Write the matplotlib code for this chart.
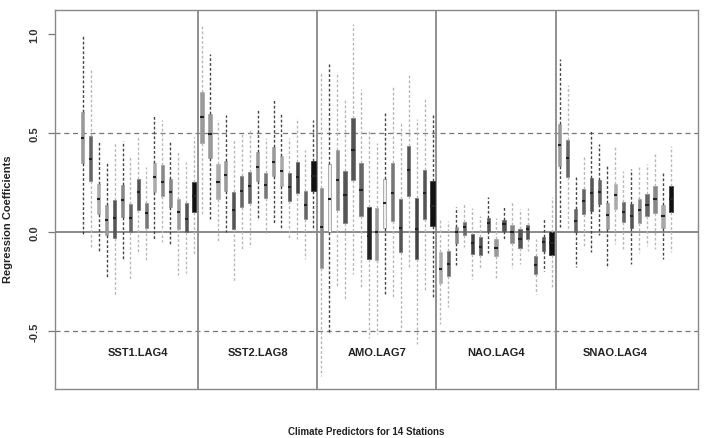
import matplotlib.pyplot as plt
import numpy as np

plt.rcParams['font.family'] = ['Liberation Sans', 'DejaVu Sans']

# group labels, 14 stations + 1 pooled (black) box per predictor
groups = ['SST1.LAG4', 'SST2.LAG8', 'AMO.LAG7', 'NAO.LAG4', 'SNAO.LAG4']
n_per_group = 15

# box statistics (75 boxes, left to right)
whisker_hi = [0.995, 0.816, 0.460, 0.354, 0.455, 0.460, 0.384, 0.481, 0.325, 0.591, 0.564, 0.455, 0.401, 0.354, 0.480,
              1.037, 0.897, 0.564, 0.589, 0.471, 0.498, 0.519, 0.614, 0.473, 0.665, 0.598, 0.473, 0.577, 0.412, 0.564,
              0.805, 0.855, 0.805, 0.673, 1.049, 0.721, 0.513, 0.451, 0.598, 0.737, 0.549, 0.800, 0.569, 0.670, 0.591,
              0.072, 0.056, 0.128, 0.148, 0.123, 0.081, 0.177, 0.072, 0.131, 0.152, 0.114, 0.123, -0.034, 0.067, 0.177,
              0.875, 0.741, 0.283, 0.384, 0.510, 0.443, 0.338, 0.426, 0.308, 0.316, 0.333, 0.345, 0.397, 0.305, 0.434]
box_q3 = [0.606, 0.485, 0.244, 0.135, 0.160, 0.237, 0.143, 0.266, 0.145, 0.350, 0.338, 0.269, 0.168, 0.148, 0.253,
          0.704, 0.594, 0.342, 0.359, 0.199, 0.283, 0.303, 0.401, 0.296, 0.426, 0.384, 0.296, 0.354, 0.207, 0.359,
          0.224, 0.342, 0.412, 0.308, 0.577, 0.347, 0.126, 0.123, 0.266, 0.347, 0.165, 0.434, 0.170, 0.311, 0.258,
          -0.104, -0.096, 0.025, 0.051, -0.012, -0.024, 0.072, -0.037, 0.059, 0.034, 0.013, 0.034, -0.121, -0.024, 0.000,
          0.547, 0.465, 0.118, 0.215, 0.271, 0.261, 0.148, 0.244, 0.152, 0.140, 0.168, 0.190, 0.232, 0.135, 0.232]
median = [0.473, 0.370, 0.168, 0.062, 0.069, 0.160, 0.069, 0.199, 0.093, 0.278, 0.254, 0.202, 0.098, 0.067, 0.180,
          0.582, 0.493, 0.254, 0.288, 0.109, 0.204, 0.232, 0.328, 0.237, 0.354, 0.308, 0.227, 0.278, 0.136, 0.283,
          0.027, 0.168, 0.261, 0.187, 0.412, 0.212, -0.020, -0.003, 0.145, 0.194, 0.022, 0.313, 0.017, 0.194, 0.131,
          -0.189, -0.163, -0.003, 0.027, -0.057, -0.074, 0.044, -0.079, 0.039, 0.000, -0.037, 0.013, -0.167, -0.051, -0.054,
          0.438, 0.375, 0.056, 0.157, 0.195, 0.202, 0.084, 0.185, 0.101, 0.081, 0.111, 0.136, 0.165, 0.081, 0.165]
box_q1 = [0.347, 0.258, 0.089, -0.017, -0.032, 0.077, -0.003, 0.109, 0.022, 0.199, 0.182, 0.128, 0.013, 0.000, 0.101,
          0.451, 0.375, 0.165, 0.207, 0.013, 0.128, 0.145, 0.258, 0.173, 0.283, 0.232, 0.157, 0.194, 0.067, 0.207,
          -0.180, -0.003, 0.111, 0.044, 0.261, 0.081, -0.138, -0.141, 0.022, 0.056, -0.104, 0.182, -0.135, 0.064, 0.030,
          -0.256, -0.222, -0.054, -0.017, -0.113, -0.118, 0.005, -0.121, 0.005, -0.054, -0.079, -0.037, -0.214, -0.096, -0.118,
          0.333, 0.279, -0.003, 0.089, 0.106, 0.140, 0.017, 0.118, 0.052, 0.022, 0.044, 0.081, 0.094, 0.022, 0.098]
whisker_lo = [-0.017, -0.074, -0.104, -0.227, -0.323, -0.138, -0.244, -0.101, -0.143, -0.037, -0.051, -0.067, -0.219, -0.205, -0.118,
              0.089, 0.067, -0.045, -0.003, -0.247, -0.088, -0.076, 0.059, -0.008, 0.044, 0.017, -0.037, -0.037, -0.135, 0.010,
              -0.727, -0.517, -0.273, -0.340, -0.214, -0.281, -0.534, -0.517, -0.315, -0.335, -0.500, -0.189, -0.564, -0.298, -0.340,
              -0.466, -0.379, -0.167, -0.074, -0.236, -0.189, -0.108, -0.231, -0.040, -0.184, -0.163, -0.096, -0.311, -0.197, -0.286,
              0.013, 0.010, -0.177, -0.076, -0.104, -0.017, -0.180, -0.062, -0.088, -0.160, -0.109, -0.071, -0.084, -0.138, -0.101]

# box fill and whisker colours per box
fills = ['#999999', '#666666', '#aaaaaa', '#999999', '#555555', '#888888', '#666666', '#555555', '#777777', '#aaaaaa', '#888888', '#888888', '#999999', '#555555', '#111111',
         '#999999', '#999999', '#aaaaaa', '#999999', '#555555', '#666666', '#666666', '#999999', '#777777', '#999999', '#aaaaaa', '#555555', '#444444', '#666666', '#111111',
         '#888888', '#eeeeee', '#888888', '#555555', '#555555', '#666666', '#222222', '#999999', '#eeeeee', '#777777', '#555555', '#555555', '#444444', '#555555', '#111111',
         '#aaaaaa', '#666666', '#888888', '#666666', '#444444', '#555555', '#555555', '#999999', '#555555', '#888888', '#555555', '#555555', '#666666', '#555555', '#111111',
         '#999999', '#666666', '#666666', '#666666', '#555555', '#666666', '#999999', '#aaaaaa', '#666666', '#555555', '#888888', '#666666', '#888888', '#aaaaaa', '#111111']
D, L = '#444444', '#b8b8b8'
whisk_cols = [D, L, D, D, L, D, L, L, L, D, L, D, L, L, L,
              L, D, L, D, L, L, L, D, L, D, D, L, L, L, D,
              L, D, L, L, L, L, L, L, D, L, L, L, L, L, D,
              L, L, D, L, L, L, D, L, D, L, L, L, L, D, L,
              D, L, D, L, D, D, D, L, L, D, L, L, L, D, L]

fig = plt.figure(figsize=(7.05, 4.39), dpi=100)
ax = fig.add_axes([0.078, 0.1116, 0.912, 0.8634])

n = len(median)
pos = np.arange(1, n + 1)

for i in range(n):
    st = [dict(med=median[i], q1=box_q1[i], q3=box_q3[i],
               whislo=whisker_lo[i], whishi=whisker_hi[i], fliers=[])]
    pooled = (i % n_per_group) == n_per_group - 1
    w = 0.6 if pooled else 0.4
    edge = '#777777' if fills[i] == '#eeeeee' else fills[i]
    ax.bxp(st, positions=[pos[i]], widths=w, patch_artist=True, showcaps=False,
           showfliers=False,
           boxprops=dict(facecolor=fills[i], edgecolor=edge, linewidth=0.4),
           whiskerprops=dict(color=whisk_cols[i], linestyle=(0, (2, 1.5)), linewidth=1.0),
           medianprops=dict(color='#222222', linewidth=1.5),
           zorder=3)

# reference lines
ax.axhline(0.0, color='#777777', lw=1.2, zorder=1)
ax.axhline(0.5, color='#777777', lw=0.9, ls=(0, (4, 3)), zorder=1)
ax.axhline(-0.5, color='#777777', lw=0.9, ls=(0, (4, 3)), zorder=1)
for k in range(1, len(groups)):
    ax.axvline(k * n_per_group + 0.5, color='#888888', lw=1.3, zorder=1)

for k, g in enumerate(groups):
    xc = k * n_per_group + (n_per_group + 1) / 2
    ax.text(xc, -0.605, g, ha='center', va='center', fontsize=8, fontweight='bold',
            color='#222222')

ax.set_xlim(-2.5, 78.4)
ax.set_ylim(-0.793, 1.12)
ax.set_xticks([])
ax.set_yticks([-0.5, 0.0, 0.5, 1.0])
ax.set_yticklabels(['-0.5', '0.0', '0.5', '1.0'], rotation=90, va='center',
                   fontsize=8, fontweight='bold', color='#333333')
ax.tick_params(axis='y', length=5, width=0.9, color='#777777', pad=6)
for s in ax.spines.values():
    s.set_color('#888888')
    s.set_linewidth(1.0)

fig.text(8 / 705, 0.5, 'Regression Coefficients', rotation=90,
         ha='center', va='center', fontsize=8, fontweight='bold', color='#222222')
fig.text(366 / 705, 1.5 / 439, 'Climate Predictors for 14 Stations', ha='center',
         va='bottom', fontsize=7, fontweight='bold', color='#222222')

fig.savefig('out.png', dpi=100)
